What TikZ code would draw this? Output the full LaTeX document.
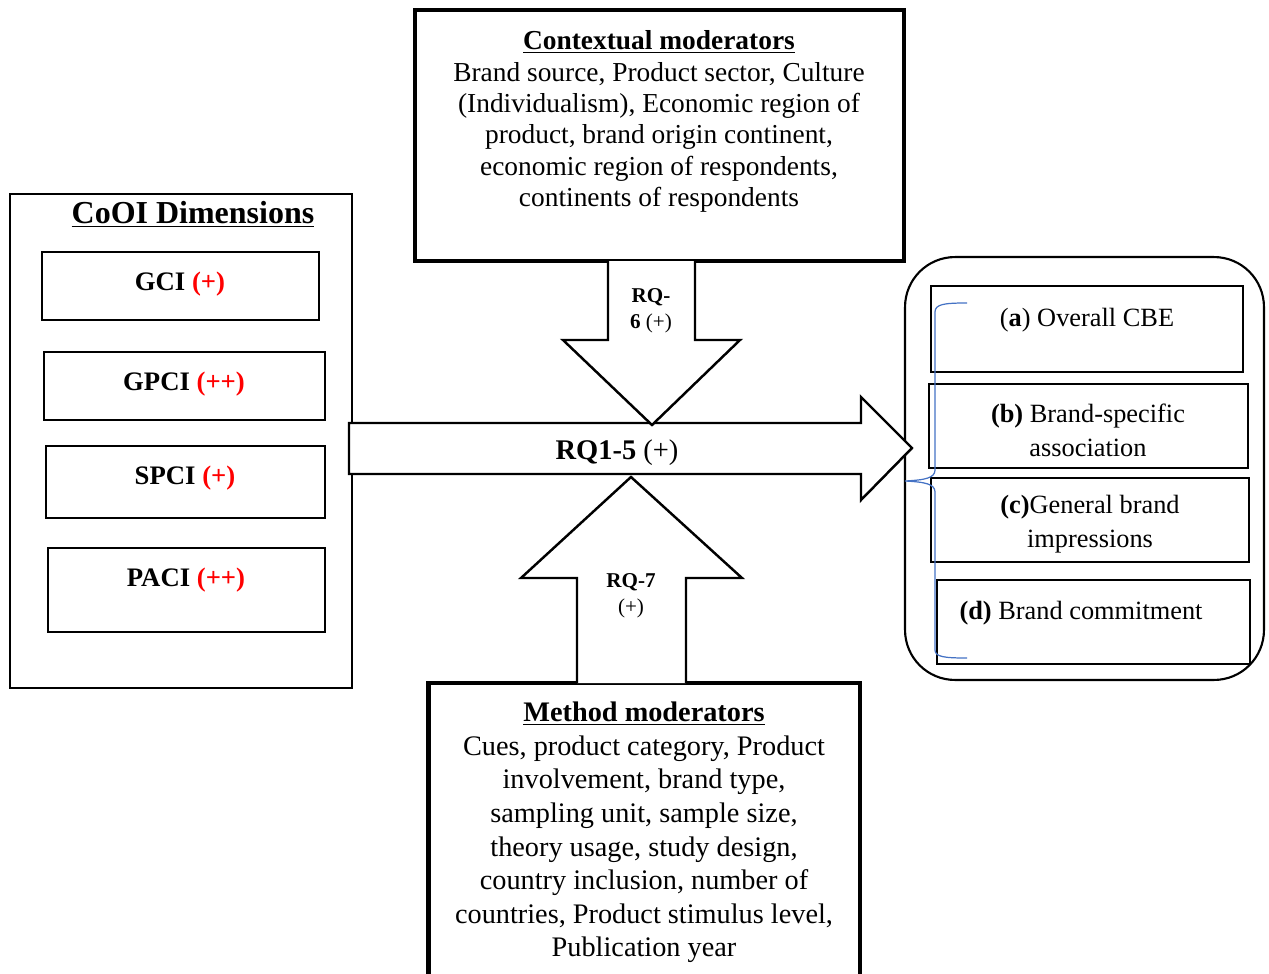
\documentclass[tikz,border=0pt]{standalone}
\usepackage{fontspec}
\setmainfont{Liberation Serif}
\usetikzlibrary{positioning}
\definecolor{plusred}{RGB}{255,0,0}
\definecolor{bracecol}{HTML}{4472C4}

\begin{document}
\begin{tikzpicture}[x=0.02cm,y=-0.02cm,
                    box/.style={draw,line width=1.2pt,inner sep=0pt},
                    dim/.style={font=\fontsize{15.2}{18}\selectfont\bfseries},
                    body/.style={align=center,font=\fontsize{15.6}{17.8}\selectfont},
                    outc/.style={align=center,font=\fontsize{15}{19.3}\selectfont},
                    rq/.style={align=center,font=\fontsize{12}{14.7}\selectfont},
                    blockarrow/.style={draw,line width=1.4pt,fill=white,line join=miter}]
      \useasboundingbox (0,0) rectangle (1269,974);

      % CoOI dimensions
      \node[box,minimum width=6.84cm,minimum height=9.88cm] (cooi) at (181,441) {};
      \node[font=\fontsize{18.2}{22}\selectfont\bfseries] (cooititle) at (193,214) {\underline{CoOI Dimensions}};
      \node[box,minimum width=5.54cm,minimum height=1.36cm] (gcibox) at (180.5,286) {};
      \node[box,minimum width=5.62cm,minimum height=1.36cm] (gpcibox) at (184.5,386) {};
      \node[box,minimum width=5.58cm,minimum height=1.44cm] (spcibox) at (185.5,482) {};
      \node[box,minimum width=5.54cm,minimum height=1.68cm] (pacibox) at (186.5,590) {};
      \node[dim] (gci) at (180,284) {GCI \textcolor{plusred}{(+)}};
      \node[dim] (gpci) at (184,384) {GPCI \textcolor{plusred}{(++)}};
      \node[dim] (spci) at (185,478) {SPCI \textcolor{plusred}{(+)}};
      \node[dim] (paci) at (186,580) {PACI \textcolor{plusred}{(++)}};

      % moderators
      \node[box,line width=2pt,minimum width=9.78cm,minimum height=5.02cm] (ctxbox) at (659.5,135.5) {};
      \node[body] (ctx) at (659,121.5) {\textbf{\underline{Contextual moderators}}\\
        Brand source, Product sector, Culture\\
        (Individualism), Economic region of\\
        product, brand origin continent,\\
        economic region of respondents,\\
        continents of respondents};
      \node[box,line width=2.8pt,minimum width=8.64cm,minimum height=5.9cm] (methbox) at (644,830.5) {};
      \node[body,font=\fontsize{16.1}{19.1}\selectfont] (meth) at (644,832.5) {\textbf{\underline{Method moderators}}\\
        Cues, product category, Product\\
        involvement, brand type,\\
        sampling unit, sample size,\\
        theory usage, study design,\\
        country inclusion, number of\\
        countries, Product stimulus level,\\
        Publication year};

      % outcomes
      \node[box,rounded corners=1cm,minimum width=7.18cm,minimum height=8.46cm] (cbe) at (1084.5,468.5) {};
      \node[box,minimum width=6.24cm,minimum height=1.72cm] (abox) at (1087,329) {};
      \node[box,minimum width=6.38cm,minimum height=1.68cm] (bbox) at (1088.5,426) {};
      \node[box,minimum width=6.36cm,minimum height=1.68cm] (cbox) at (1090,520) {};
      \node[box,minimum width=6.26cm,minimum height=1.68cm] (dbox) at (1093.5,622) {};
      \node[outc] (a) at (1087,320) {(\textbf{a}) Overall CBE};
      \node[outc] (b) at (1088,430) {\textbf{(b)} Brand-specific\\association};
      \node[outc] (c) at (1090,524) {\textbf{(c)}General brand\\impressions};
      \node[outc] (d) at (1081,613) {\textbf{(d)} Brand commitment};
      \draw[bracecol,line width=0.7pt] (967,303) .. controls (945,303) and (935,304) .. (935,312)
        -- (935,470) .. controls (935,478) and (925,480) .. (905,481)
        .. controls (925,482) and (935,484) .. (935,492)
        -- (935,650) .. controls (935,657) and (945,658) .. (967,658);

      % RQ arrows
      \draw[blockarrow] (349,423) -- (861,423) -- (861,397) -- (912,448) -- (861,500) -- (861,474) -- (349,474) -- cycle;
      \draw[blockarrow] (608,261) -- (608,340) -- (563,340) -- (652,425) -- (740,340) -- (695,340) -- (695,261);
      \draw[blockarrow] (577,683) -- (577,578) -- (521,578) -- (631,477) -- (742,578) -- (686,578) -- (686,683);
      \node[font=\fontsize{16.2}{20}\selectfont] (rq15) at (617,453) {\textbf{RQ1-5} (+)};
      \node[rq] (rq6) at (651,311) {\textbf{RQ-}\\\textbf{6} (+)};
      \node[rq] (rq7) at (631,596) {\textbf{RQ-7}\\(+)};
    \end{tikzpicture}
\end{document}
